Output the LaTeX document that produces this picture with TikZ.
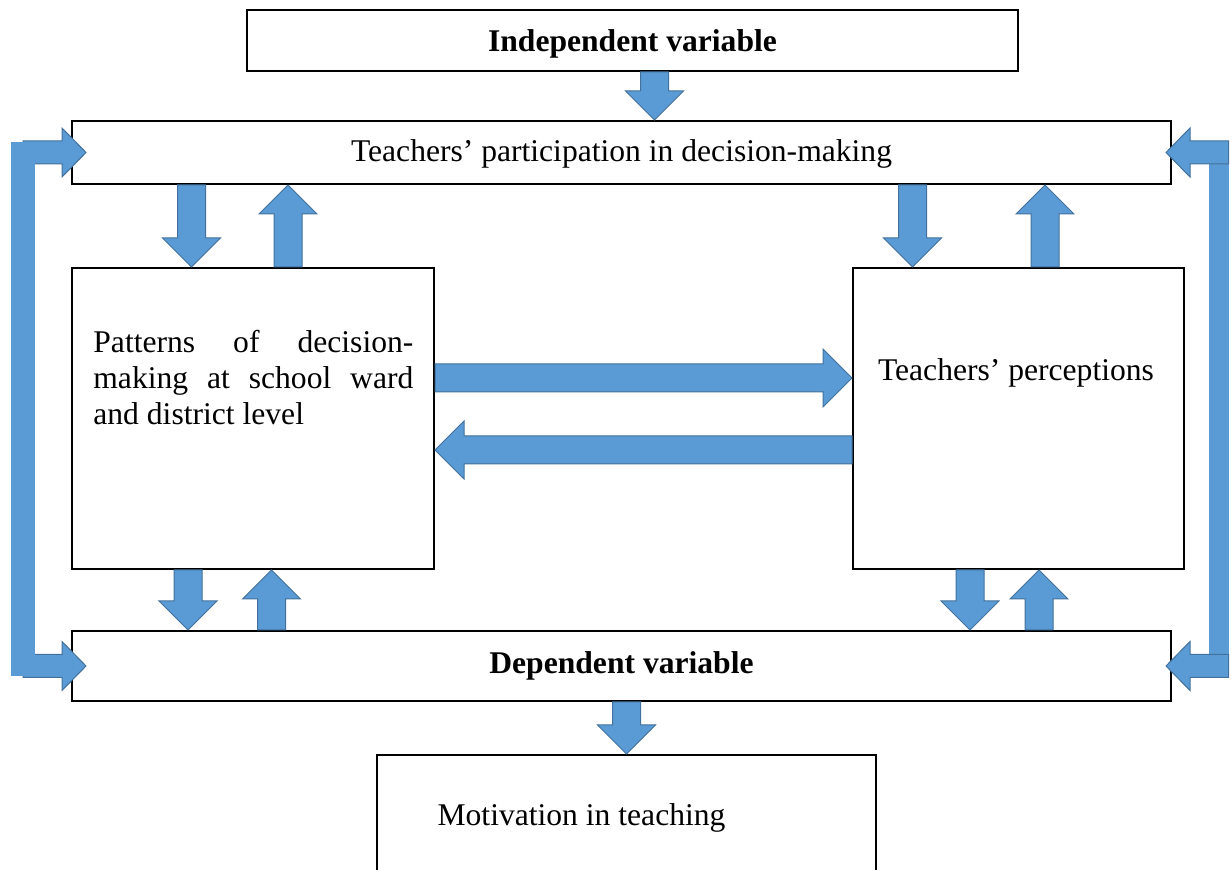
\documentclass[tikz,border=0pt]{standalone}
\usepackage{fontspec}
\setmainfont{Liberation Serif}
\usetikzlibrary{calc,positioning}
\definecolor{ArrowBlue}{RGB}{91,155,213}
\definecolor{ArrowEdge}{RGB}{65,113,156}
\newcommand{\sw}{7pt}
\newcommand{\hw}{14.5pt}
\newcommand{\hl}{14.5pt}

\begin{document}
\begin{tikzpicture}[
x=0.5pt,y=-0.5pt,
box/.style={
draw,
line width=1pt,
inner sep=0pt,
align=center,
font=\fontsize{15.8}{18}\selectfont
},
lbl/.style={inner sep=0pt,font=\fontsize{15.8}{18}\selectfont},
blk/.style={
fill=ArrowBlue,draw=ArrowEdge,line width=0.5pt,
to path={
($(\tikztotarget)!\hl!(\tikztostart)$) coordinate (bb)
($(\tikztostart)!\sw!90:(\tikztotarget)$)
-- ($(bb)!\sw!-90:(\tikztostart)$)
-- ($(bb)!\hw!-90:(\tikztostart)$)
-- (\tikztotarget)
-- ($(bb)!\hw!90:(\tikztostart)$)
-- ($(bb)!\sw!90:(\tikztostart)$)
-- ($(\tikztostart)!\sw!-90:(\tikztotarget)$)
-- cycle
}
},
slim/.code={\def\sw{5.75pt}\def\hw{12.25pt}\def\hl{12pt}},
bar/.style={draw=ArrowBlue}
]
\useasboundingbox (0,0) rectangle (1232,870);

\node[box,minimum width=385.5pt,minimum height=30.5pt,text height=14.7pt,text depth=3.3pt] (indep) at (632.5,40.5) {\textbf{Independent variable}};
\node[box,minimum width=549.5pt,minimum height=31.5pt,text height=12.8pt,text depth=3.4pt] (part) at (621.5,152.5) {Teachers’ participation in decision-making};
\node[box,minimum width=181pt,minimum height=150.5pt] (pat) at (253,418.5) {};
\node[box,minimum width=165.5pt,minimum height=150.5pt] (perc) at (1018.5,418.5) {};
\node[box,minimum width=549.5pt,minimum height=35pt] (dep) at (621.5,666) {\textbf{Dependent variable}};
\node[box,minimum width=249.5pt,minimum height=70pt] (mot) at (626.5,825) {};

\node[lbl,anchor=north west,text width=160pt,align=justify] (patlbl) at ([xshift=11pt,yshift=-31.5pt]pat.north west)
{\tolerance=10000 Patterns of decision-\linebreak making at school ward\linebreak and district level};
\node[lbl] (perclbl) at ([xshift=-1.25pt,yshift=22.75pt]perc.center) {Teachers’ perceptions};
\node[lbl] (motlbl) at ([xshift=-22.5pt,yshift=-32pt]mot.north) {Motivation in teaching};

\coordinate (iv) at ([xshift=11pt]indep.south);
\coordinate (pd) at ([xshift=-30.75pt]pat.north);
\coordinate (pu) at ([xshift=17.5pt]pat.north);
\coordinate (qd) at ([xshift=-53pt]perc.north);
\coordinate (qu) at ([xshift=13.25pt]perc.north);
\coordinate (pr) at ([yshift=20.25pt]pat.east);
\coordinate (ql) at ([yshift=-15.75pt]perc.west);
\coordinate (sd) at ([xshift=-32.5pt]pat.south);
\coordinate (su) at ([xshift=9.25pt]pat.south);
\coordinate (td) at ([xshift=-24.25pt]perc.south);
\coordinate (tu) at ([xshift=10.25pt]perc.south);

\draw[blk] (iv) to (iv |- part.north);
\draw[blk] (pd |- part.south) to (pd);
\draw[blk] (pu) to (pu |- part.south);
\draw[blk] (qd |- part.south) to (qd);
\draw[blk] (qu) to (qu |- part.south);
\draw[blk] (pr) to (pr -| perc.west);
\draw[blk] (ql) to (ql -| pat.east);
\draw[blk] (sd) to (sd |- dep.north);
\draw[blk] (su |- dep.north) to (su);
\draw[blk] (td) to (td |- dep.north);
\draw[blk] (tu |- dep.north) to (tu);
\draw[blk] (dep.south -| mot.north) to (mot.north);

\coordinate (lb) at ([xshift=-24pt]part.west);
\coordinate (lbb) at (lb |- dep.west);
\coordinate (lt) at ([xshift=7.5pt]part.west);
\coordinate (lbt) at ([xshift=7.5pt]dep.west);
\draw[blk,slim] (lb) to (lt);
\draw[blk,slim] (lbb) to (lbt);
\draw[bar,line width=12pt] ([yshift=5pt]lb) -- ([yshift=-5pt]lbb);

\coordinate (rb) at ([xshift=23.25pt]part.east);
\coordinate (rbb) at (rb |- dep.east);
\coordinate (rs) at ([xshift=5pt]rb);
\coordinate (rsb) at ([xshift=5pt]rbb);
\coordinate (rt) at ([xshift=-3pt]part.east);
\coordinate (rbt) at ([xshift=-3pt]dep.east);
\draw[bar,line width=10pt] (rb) -- (rbb);
\draw[blk,slim] (rs) to (rt);
\draw[blk,slim] (rsb) to (rbt);
\end{tikzpicture}
\end{document}
